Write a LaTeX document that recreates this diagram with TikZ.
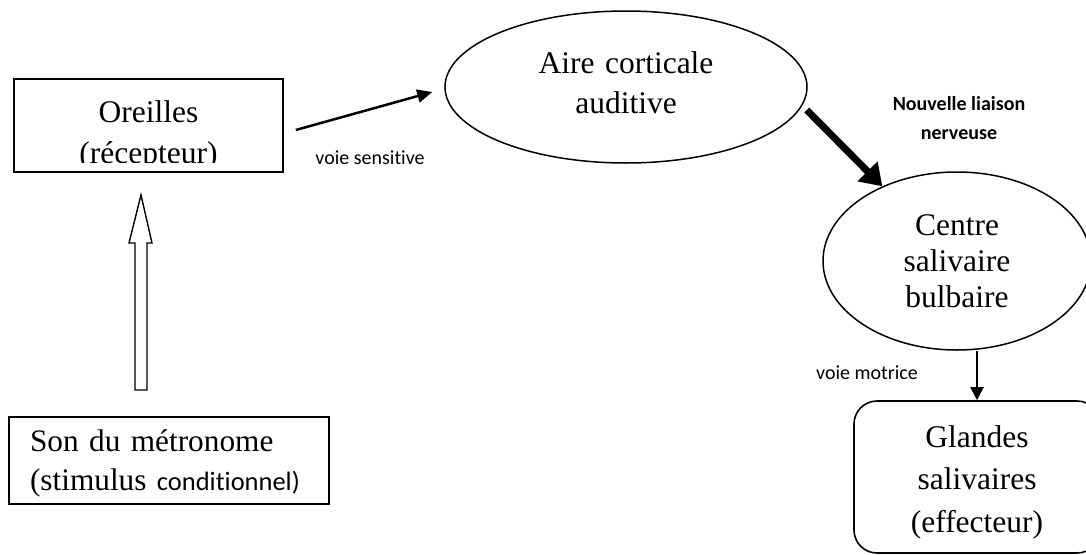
\documentclass[tikz,border=0pt]{standalone}
\usepackage{fontspec}
\setmainfont{Liberation Serif}
\newfontfamily\calib[Ligatures=NoCommon]{Carlito}
\usetikzlibrary{arrows.meta,shapes.geometric,calc}
\begin{document}
\begin{tikzpicture}[x=1pt,y=-1pt,
  box/.style={draw, line width=1.6pt, inner sep=0pt},
  oval/.style={draw, ellipse, line width=1.5pt, inner sep=0pt},
  lbl/.style={font=\calib\fontsize{20}{29}\selectfont, inner sep=0pt, align=center},
  conn/.style={-{Triangle[length=15pt,width=13pt]}, line width=2.5pt},
  heavy/.style={-{Triangle[length=21pt,width=27pt]}, line width=7pt},
  thin/.style={-{Triangle[length=13pt,width=13pt]}, line width=2pt},
  hollow/.style={draw, line width=1.4pt, fill=white, line join=miter}
]
\useasboundingbox (0,0) rectangle (1086,554);
\fill[white] (0,0) rectangle (1086,554);
\clip (0,0) rectangle (1086,554);

% Oreilles (text clipped at the bottom, as in the reference)
\begin{scope}[even odd rule]
\clip (-20,-20) rectangle (1110,580) (281.5,162) rectangle (15.5,171);
\node[box, minimum width=269pt, minimum height=93pt, text width=200pt, align=center,
      text height=20pt, text depth=27pt, font=\fontsize{31.5}{41}\selectfont]
      (oreilles) at (148.5,125.5) {Oreilles\\(récepteur)};
\end{scope}

% Son du metronome
\begin{scope}[even odd rule]
\clip (-20,-20) rectangle (1110,580) (327.5,497.5) rectangle (10.5,503);
\node[box, minimum width=320pt, minimum height=87pt, text width=278pt, align=left,
      text height=20pt, text depth=38pt, font=\fontsize{31.3}{39}\selectfont]
      (son) at (169,460.5) {\mbox{Son du métronome}\\\mbox{(stimulus {\calib\fontsize{26.5}{39}\selectfont conditionnel)}}};
\end{scope}

% Aire corticale auditive
\node[oval, minimum width=362pt, minimum height=152pt, text width=200pt, align=center,
      text height=20pt, text depth=48pt, font=\fontsize{31.5}{40}\selectfont]
      (aire) at (626,87) {Aire corticale\\auditive};

% Centre salivaire bulbaire
\node[oval, minimum width=268pt, minimum height=178pt, text width=140pt, align=center,
      text height=20pt, text depth=72pt, font=\fontsize{31.5}{36}\selectfont]
      (centre) at (957,261) {Centre\\salivaire\\bulbaire};

% Glandes salivaires
\node[box, rounded corners=23pt, minimum width=246pt, minimum height=152pt, text width=200pt,
      align=center, text height=20pt, text depth=80pt, font=\fontsize{31.5}{42.5}\selectfont]
      (glandes) at (977,477) {Glandes\\salivaires\\(effecteur)};

% labels
\node[lbl] (vs) at (370,158) {voie sensitive};
\node[lbl] (vm) at (867,373) {voie motrice};
\node[lbl, font=\calib\bfseries\fontsize{20}{29}\selectfont] (nl) at (959,118.5) {Nouvelle liaison\\nerveuse};

% connectors
\draw[conn] ($(oreilles.east)+(12,4.5)$) -- ($(aire.west)+(-12,5)$);
\draw[heavy] ($(aire.east)+(-1,23)$) -- (centre.135);
\draw[thin] (centre.south -| glandes.north) -- (glandes.north);

% hollow arrow from the sound to the ears
\path[hollow] (135,390) -- (147,390) -- (147,243) -- (152,243) -- (141,195)
      -- (129,243) -- (135,243) -- cycle;
\end{tikzpicture}
\end{document}
